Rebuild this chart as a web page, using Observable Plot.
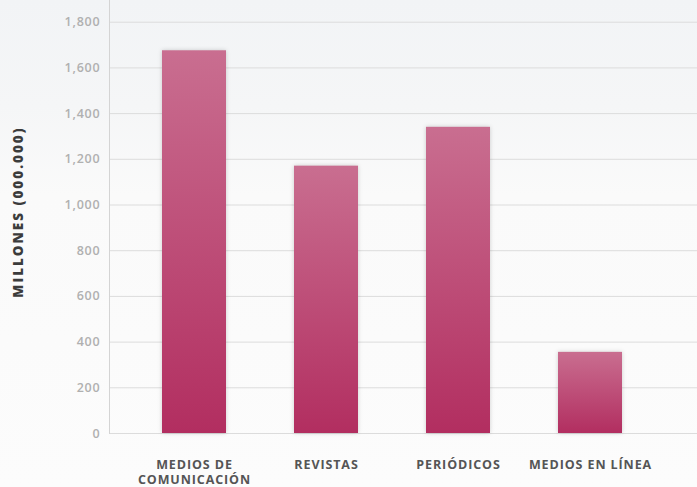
<!DOCTYPE html>
<html>
<head>
<meta charset="utf-8">
<script src="https://cdn.jsdelivr.net/npm/d3@7"></script>
<script src="https://cdn.jsdelivr.net/npm/@observablehq/plot@0.6"></script>
<style>
  html, body { margin: 0; padding: 0; }
  body {
    width: 697px; height: 487px; overflow: hidden;
    background: linear-gradient(to bottom, #f2f4f6 0%, #f5f6f7 22%, #fafafa 40%, #fcfcfc 100%);
  }
  svg { display: block; }
  g[aria-label="y-axis tick label"] text { font-weight: 600; letter-spacing: 0.8px; font-size: 12.5px; }
  g[aria-label="x-axis tick label"] text { font-weight: 700; letter-spacing: 0.9px; font-size: 12.5px; }
  g[aria-label="y-axis label"] text { font-weight: 800; letter-spacing: 2px; font-size: 13.5px; }
  g[aria-label="bar"] rect { filter: drop-shadow(0 0 2px rgba(0,0,0,0.18)); }
</style>
</head>
<body>
<div id="chart"></div>
<script>
const categories = ["MEDIOS DE\nCOMUNICACIÓN", "REVISTAS", "PERIÓDICOS", "MEDIOS EN LÍNEA"];
const values = [1675, 1170, 1340, 355];
const yTicks = [0, 200, 400, 600, 800, 1000, 1200, 1400, 1600, 1800];
const yLabel = "MILLONES (000.000)";

const data = categories.map((c, i) => ({cat: c, value: values[i]}));

const plot = Plot.plot({
  width: 697,
  height: 487,
  marginLeft: 109,
  marginRight: 0,
  marginTop: 0,
  marginBottom: 54,
  style: {background: "transparent", fontFamily: "'Open Sans', sans-serif", fontSize: "12px", overflow: "visible"},
  x: {domain: categories, paddingInner: 0.518, paddingOuter: 0.474, align: 0.413, label: null},
  y: {domain: [0, 1895], label: null},
  marks: [
    Plot.gridY(yTicks, {stroke: "#dcdcdc", strokeOpacity: 1}),
    Plot.frame({anchor: "left", stroke: "#d4d4d4"}),
    Plot.barY(data, {x: "cat", y: "value", fill: "url(#barGrad)"}),
    Plot.axisY(yTicks, {tickSize: 0, tickPadding: 9, tickFormat: d3.format(","), color: "#b0b0b0",
      label: yLabel, labelAnchor: "center", labelArrow: "none", labelOffset: 96}),
    Plot.axisX({tickSize: 0, tickPadding: 24, color: "#555", lineHeight: 1.25, label: null})
  ]
});

const svg = d3.select(plot);
const grad = svg.insert("defs", ":first-child").append("linearGradient")
  .attr("id", "barGrad").attr("x1", 0).attr("y1", 0).attr("x2", 0).attr("y2", 1);
grad.append("stop").attr("offset", "0%").attr("stop-color", "#c96e90");
grad.append("stop").attr("offset", "100%").attr("stop-color", "#b22e60");

const ylab = svg.select('g[aria-label="y-axis label"]');
ylab.select("text").attr("fill", "#3c3c3c");
const prev = ylab.attr("transform") || "";
ylab.attr("transform", (prev + " translate(0,-5)").trim());

document.getElementById("chart").appendChild(plot);
</script>
</body>
</html>
